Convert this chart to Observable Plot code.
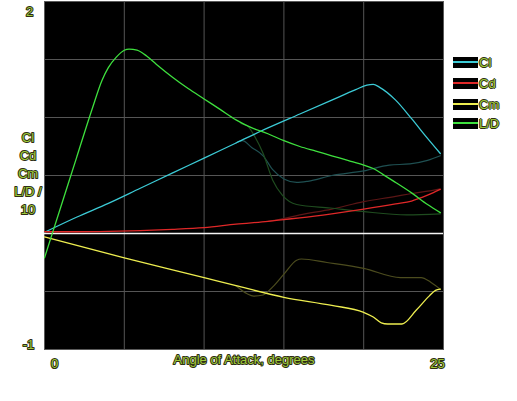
<!DOCTYPE html>
<html>
<head>
<meta charset="utf-8">
<script src="https://cdn.jsdelivr.net/npm/d3@7"></script>
<script src="https://cdn.jsdelivr.net/npm/@observablehq/plot@0.6"></script>
<style>
  html, body { margin: 0; padding: 0; background: #fff; }
  #wrap { position: relative; width: 517px; height: 401px; }
  #wrap svg { display: block; }
  #wrap svg text { paint-order: stroke; }
  .leg { position: absolute; left: 453px; top: 0; font-family: "Liberation Sans", sans-serif; font-size: 13px; }
  .item { position: absolute; left: 0; height: 13px; width: 70px; }
  .box { position: absolute; left: 0; top: 0; width: 25px; height: 11px; background: #000; }
  .box i { position: absolute; left: 0; right: 0; top: 4px; height: 2px; }
  .item span { position: absolute; left: 26px; top: -2px; color: #9ec83a;
    text-shadow: -1px 0 #2e2e14, 1px 0 #2e2e14, 0 -1px #2e2e14, 0 1px #2e2e14; }
</style>
</head>
<body>
<div id="wrap"></div>
<script>
// ---- data ----
const clAlpha = [0, 2, 4, 6, 8, 10, 12, 14, 16, 18, 19.5, 20.2, 20.6, 21, 22, 23, 24, 24.8];
const clValue = [0.01, 0.14, 0.26, 0.39, 0.52, 0.65, 0.78, 0.91, 1.03, 1.15, 1.24, 1.28, 1.285, 1.26, 1.15, 0.99, 0.82, 0.69];
const clGhostAlpha = [12, 12.4, 13, 13.7, 14.3, 15, 15.8, 16.5, 18, 20, 21.6, 22.9, 24, 24.8];
const clGhostValue = [0.78, 0.80, 0.74, 0.67, 0.55, 0.47, 0.44, 0.45, 0.50, 0.54, 0.59, 0.60, 0.63, 0.67];

const cdAlpha = [0, 2, 4, 6, 8, 10, 12, 14, 15, 16, 18, 20, 22, 23, 24, 24.8];
const cdValue = [0.015, 0.015, 0.018, 0.025, 0.035, 0.05, 0.08, 0.105, 0.12, 0.135, 0.17, 0.21, 0.255, 0.28, 0.33, 0.38];
const cdGhostAlpha = [14, 14.5, 16, 18, 20, 22, 23, 24, 24.8];
const cdGhostValue = [0.105, 0.115, 0.16, 0.21, 0.275, 0.32, 0.345, 0.365, 0.385];

const cmAlpha = [0, 5, 10, 12, 15, 18, 20, 20.6, 21.1, 21.5, 22.4, 23.3, 24.1, 24.5, 24.8];
const cmValue = [-0.03, -0.21, -0.38, -0.45, -0.55, -0.62, -0.68, -0.72, -0.77, -0.78, -0.78, -0.66, -0.54, -0.49, -0.48];
const cmGhostAlpha = [12, 12.7, 13.1, 13.7, 14.3, 15, 15.8, 16.1, 17.7, 20, 22.3, 23.6, 24.2, 24.8];
const cmGhostValue = [-0.45, -0.52, -0.54, -0.53, -0.46, -0.35, -0.23, -0.22, -0.25, -0.30, -0.38, -0.38, -0.42, -0.48];

const ldAlpha = [0, 1, 2, 3, 3.6, 4, 4.5, 5, 5.3, 5.8, 6.4, 7, 8, 9, 10, 11, 12, 13, 14, 15, 16, 17, 18, 19, 20, 20.6, 21.2, 22, 23, 24, 24.8];
const ldValue = [-0.21, 0.22, 0.65, 1.08, 1.32, 1.43, 1.52, 1.58, 1.59, 1.58, 1.53, 1.46, 1.35, 1.25, 1.16, 1.07, 0.98, 0.91, 0.86, 0.80, 0.75, 0.71, 0.67, 0.63, 0.59, 0.56, 0.51, 0.44, 0.35, 0.25, 0.18];
const ldGhostAlpha = [12.3, 12.7, 13.2, 13.7, 14.3, 14.9, 15.8, 17.9, 19.9, 22.7, 24.8];
const ldGhostValue = [0.95, 0.93, 0.83, 0.69, 0.46, 0.33, 0.25, 0.22, 0.19, 0.16, 0.17];

const seriesNames = ["Cl", "Cd", "Cm", "L/D"];
const seriesColors = ["#3ccbd6", "#e02828", "#eeee50", "#3ee03e"];
const ghostColors = ["#1f5052", "#5c1616", "#4c4c1e", "#1f4c1f"];

const xGrid = [5, 10, 15, 20];
const yGrid = [-0.5, 0.5, 1, 1.5];
const yTopLabel = [{v: 2, t: "2"}];
const yBottomLabel = [{v: -1, t: "-1"}];
const xFirstLabel = [{v: 0, t: "0"}];
const xLastLabel = [{v: 25, t: "25"}];
const xTitle = "Angle of Attack, degrees";
const yTitle = "Cl\nCd\nCm\nL/D /\n10";

const zip = (a, b) => a.map((x, i) => ({a: x, v: b[i]}));
const bright = [zip(clAlpha, clValue), zip(cdAlpha, cdValue), zip(cmAlpha, cmValue), zip(ldAlpha, ldValue)];
const ghost = [zip(clGhostAlpha, clGhostValue), zip(cdGhostAlpha, cdGhostValue), zip(cmGhostAlpha, cmGhostValue), zip(ldGhostAlpha, ldGhostValue)];

const txt = {fill: "#9ec83a", stroke: "#2e2e14", strokeWidth: 2, fontSize: 13, fontFamily: "Liberation Sans", textAnchor: "middle"};

const chart = Plot.plot({
  width: 517, height: 401,
  marginLeft: 44, marginRight: 74, marginTop: 1, marginBottom: 52,
  x: {domain: [0, 25], axis: null},
  y: {domain: [-1, 2], axis: null},
  style: {background: "#fff", fontFamily: "Liberation Sans"},
  marks: [
    Plot.frame({fill: "#000", stroke: "#5a5a5a"}),
    Plot.ruleX(xGrid, {stroke: "#555", strokeWidth: 1}),
    Plot.ruleY(yGrid, {stroke: "#555", strokeWidth: 1}),
    Plot.ruleY([0], {stroke: "#f4f4f4", strokeWidth: 1.5}),
    ...ghost.map((d, i) => Plot.line(d, {x: "a", y: "v", stroke: ghostColors[i], strokeWidth: 1.2, curve: "monotone-x"})),
    ...bright.map((d, i) => Plot.line(d, {x: "a", y: "v", stroke: seriesColors[i], strokeWidth: 1.3, curve: "monotone-x"})),
    Plot.text(yTopLabel, {x: 0, y: "v", text: "t", dx: -15, dy: 10, ...txt}),
    Plot.text(yBottomLabel, {x: 0, y: "v", text: "t", dx: -16, dy: -5, ...txt}),
    Plot.text(xFirstLabel, {x: "v", y: -1, text: "t", dy: 14, dx: 10, ...txt}),
    Plot.text(xLastLabel, {x: "v", y: -1, text: "t", dy: 14, dx: -6, ...txt}),
    Plot.text([xTitle], {frameAnchor: "bottom", dy: 14, ...txt}),
    Plot.text([yTitle], {frameAnchor: "left", dx: -16.5, dy: -3, lineHeight: 1.38, ...txt})
  ]
});
document.getElementById("wrap").appendChild(chart);

// legend
const leg = document.createElement("div");
leg.className = "leg";
const tops = [57, 78, 99, 118];
seriesNames.forEach((n, i) => {
  const it = document.createElement("div");
  it.className = "item";
  it.style.top = tops[i] + "px";
  it.innerHTML = `<div class="box"><i style="background:${seriesColors[i]}"></i></div><span>${n}</span>`;
  leg.appendChild(it);
});
document.getElementById("wrap").appendChild(leg);
</script>
</body>
</html>
